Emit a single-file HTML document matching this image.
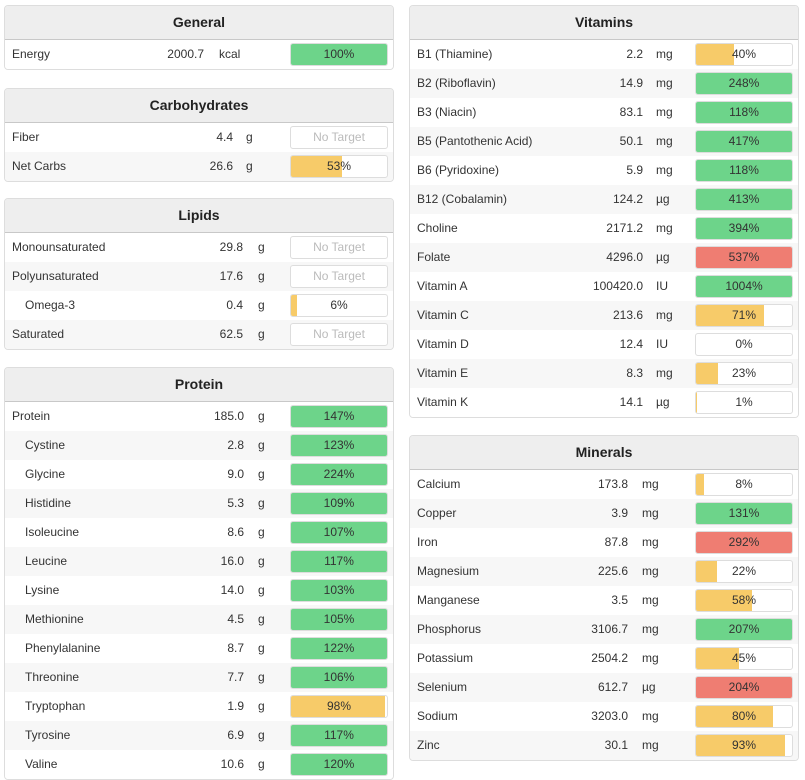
<!DOCTYPE html>
<html><head><meta charset="utf-8"><style>
body{margin:0;width:805px;height:776px;overflow:hidden;background:#fff;font-family:"Liberation Sans",sans-serif;color:#333;font-size:12px;position:relative}
.panel{position:absolute;width:388px;border:1px solid #ddd;border-radius:4px;overflow:hidden;background:#fff}
.hdr{height:33px;line-height:33px;background:#eee;border-bottom:1px solid #c8c8c8;text-align:center;font-weight:bold;font-size:14px;color:#222}
.row{position:relative;height:29px;line-height:29px;background:#fff}
.row:nth-child(even){background:#f7f7f7}
.nm{position:absolute;left:7px}
.val{position:absolute;text-align:right}
.unit{position:absolute}
.bar{position:absolute;left:285px;top:3px;width:96px;height:21px;border:1px solid #ddd;border-radius:3px;overflow:hidden;background:#fff;line-height:21px;text-align:center}
.fill{position:absolute;left:0;top:0;bottom:0}
.pct{position:relative}
.nt{color:#bbb}
</style></head><body>
<script>
const panels=[
 {title:"General",x:4,y:5,valEnd:199,unitX:214,rows:[["Energy","2000.7","kcal",100,"g"]]},
 {title:"Carbohydrates",x:4,y:88,valEnd:228,unitX:241,rows:[["Fiber","4.4","g",null,""],["Net Carbs","26.6","g",53,"o"]]},
 {title:"Lipids",x:4,y:198,valEnd:238,unitX:253,rows:[["Monounsaturated","29.8","g",null,""],["Polyunsaturated","17.6","g",null,""],["  Omega-3","0.4","g",6,"o"],["Saturated","62.5","g",null,""]]},
 {title:"Protein",x:4,y:367,valEnd:239,unitX:253,rows:[["Protein","185.0","g",147,"g"],["  Cystine","2.8","g",123,"g"],["  Glycine","9.0","g",224,"g"],["  Histidine","5.3","g",109,"g"],["  Isoleucine","8.6","g",107,"g"],["  Leucine","16.0","g",117,"g"],["  Lysine","14.0","g",103,"g"],["  Methionine","4.5","g",105,"g"],["  Phenylalanine","8.7","g",122,"g"],["  Threonine","7.7","g",106,"g"],["  Tryptophan","1.9","g",98,"o"],["  Tyrosine","6.9","g",117,"g"],["  Valine","10.6","g",120,"g"]]},
 {title:"Vitamins",x:409,y:5,valEnd:233,unitX:246,rows:[["B1 (Thiamine)","2.2","mg",40,"o"],["B2 (Riboflavin)","14.9","mg",248,"g"],["B3 (Niacin)","83.1","mg",118,"g"],["B5 (Pantothenic Acid)","50.1","mg",417,"g"],["B6 (Pyridoxine)","5.9","mg",118,"g"],["B12 (Cobalamin)","124.2","µg",413,"g"],["Choline","2171.2","mg",394,"g"],["Folate","4296.0","µg",537,"r"],["Vitamin A","100420.0","IU",1004,"g"],["Vitamin C","213.6","mg",71,"o"],["Vitamin D","12.4","IU",0,"o"],["Vitamin E","8.3","mg",23,"o"],["Vitamin K","14.1","µg",1,"o"]]},
 {title:"Minerals",x:409,y:435,valEnd:218,unitX:232,rows:[["Calcium","173.8","mg",8,"o"],["Copper","3.9","mg",131,"g"],["Iron","87.8","mg",292,"r"],["Magnesium","225.6","mg",22,"o"],["Manganese","3.5","mg",58,"o"],["Phosphorus","3106.7","mg",207,"g"],["Potassium","2504.2","mg",45,"o"],["Selenium","612.7","µg",204,"r"],["Sodium","3203.0","mg",80,"o"],["Zinc","30.1","mg",93,"o"]]}
];
const colors={g:"#6dd48a",o:"#f7cb69",r:"#ef7d72"};
panels.forEach(p=>{
 const d=document.createElement('div');d.className='panel';
 
 
 d.style.left=p.x+'px';d.style.top=p.y+'px';
 let h='<div class="hdr">'+p.title+'</div><div>';
 p.rows.forEach(r=>{
  const ind=r[0].startsWith('  ');const nm=r[0].trim();
  let bar;
  if(r[3]===null) bar='<div class="bar nt">No Target</div>';
  else bar='<div class="bar"><div class="fill" style="width:'+Math.min(r[3],100)+'%;background:'+colors[r[4]]+'"></div><span class="pct">'+r[3]+'%</span></div>';
  h+='<div class="row"><span class="nm" style="left:'+(ind?20:7)+'px">'+nm+'</span><span class="val" style="right:'+(388-p.valEnd)+'px">'+r[1]+'</span><span class="unit" style="left:'+p.unitX+'px">'+r[2]+'</span>'+bar+'</div>';
 });
 d.innerHTML=h+'</div>';
 document.body.appendChild(d);
});
</script>
</body></html>
